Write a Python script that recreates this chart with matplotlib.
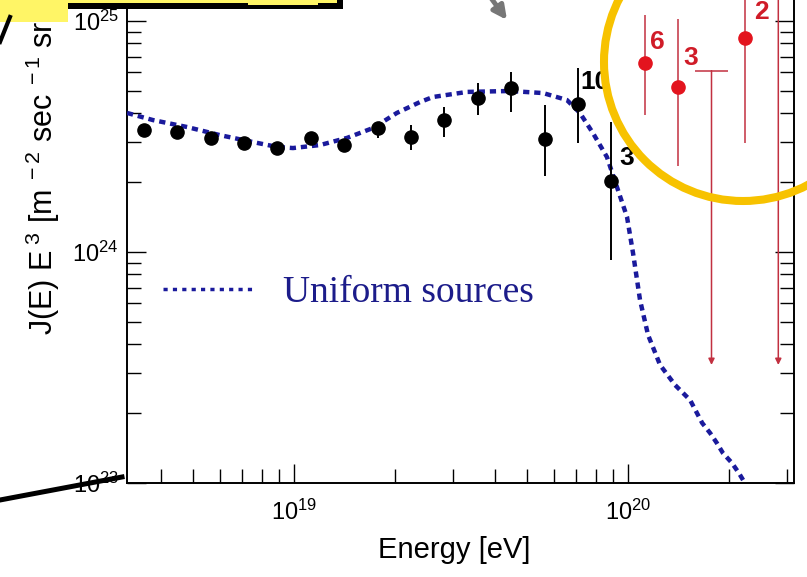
import numpy as np
import matplotlib

matplotlib.use("Agg")
import matplotlib.pyplot as plt
from matplotlib.lines import Line2D
from matplotlib.patches import Rectangle, Circle, FancyArrowPatch
from matplotlib.ticker import FuncFormatter, NullFormatter
from matplotlib.transforms import Affine2D

plt.rcParams["font.family"] = ["Liberation Sans", "DejaVu Sans"]
plt.rcParams["mathtext.fontset"] = "custom"
plt.rcParams["mathtext.rm"] = "Liberation Sans"
plt.rcParams["mathtext.it"] = "Liberation Sans:italic"
plt.rcParams["mathtext.bf"] = "Liberation Sans:bold"

# measured spectrum, log10(E / eV) and log10(J E^3)
data_loge = [18.55, 18.65, 18.75, 18.85, 18.95, 19.05, 19.15, 19.25,
             19.35, 19.45, 19.55, 19.65, 19.75, 19.85, 19.95]
data_logj = [24.528, 24.521, 24.492, 24.473, 24.449, 24.495, 24.463, 24.535,
             24.499, 24.571, 24.668, 24.709, 24.488, 24.639, 24.307]
data_hi = [24.540, 24.535, 24.505, 24.485, 24.460, 24.510, 24.480, 24.564,
           24.550, 24.629, 24.730, 24.781, 24.636, 24.795, 24.564]
data_lo = [24.515, 24.507, 24.479, 24.461, 24.438, 24.480, 24.446, 24.492,
           24.442, 24.499, 24.593, 24.607, 24.329, 24.471, 23.965]

# highest energy bins
top_loge = [20.05, 20.15, 20.35]
top_logj = [24.819, 24.713, 24.928]
top_hi = [25.026, 25.009, 25.30]
top_lo = [24.593, 24.374, 24.473]

# upper limits
ul_loge = [20.25, 20.45]
ul_logj = [24.785, 25.30]
ul_tip = [23.511, 23.511]

# event counts written next to the last bins
cnt_black = ["10", "3"]
cnt_black_loge = [19.85, 19.95]
cnt_black_logj = [24.639, 24.307]
cnt_red = ["6", "3", "2"]

# uniform sources model
model_loge = [18.50, 18.578, 18.68, 18.778, 18.877, 18.949, 18.997, 19.078,
              19.159, 19.237, 19.308, 19.377, 19.416, 19.518, 19.647, 19.746,
              19.817, 19.856, 19.895, 19.937, 19.967, 19.997, 20.015, 20.036,
              20.06, 20.096, 20.141, 20.186, 20.222, 20.246, 20.266, 20.284,
              20.311, 20.332, 20.35]
model_logj = [24.602, 24.571, 24.541, 24.506, 24.476, 24.455, 24.450, 24.463,
              24.494, 24.537, 24.602, 24.649, 24.671, 24.693, 24.697, 24.688,
              24.658, 24.602, 24.515, 24.411, 24.281, 24.152, 23.996, 23.792,
              23.641, 23.511, 23.424, 23.359, 23.260, 23.216, 23.173, 23.130,
              23.087, 23.043, 23.000]

p = lambda v: 10 ** np.asarray(v)
navy = "#1a1a9c"
red = "#e3141e"
dred = "#c23040"

W, H = 807, 577
fig = plt.figure(figsize=(W / 100, H / 100), dpi=100)
ax = fig.add_axes([127 / W, 94 / H, 667 / W, 503 / H])
ax.set_xscale("log")
ax.set_yscale("log")
ax.set_xlim(10 ** 18.5, 10 ** 20.497)
ax.set_ylim(1e23, 10 ** (23 + 503 / 231))

ax.plot(p(model_loge), p(model_logj), color=navy, lw=3.2,
        linestyle=(0, (1.4, 1.1)), dash_capstyle="butt", zorder=3)

j = p(data_logj)
ax.errorbar(p(data_loge), j, yerr=[j - p(data_lo), p(data_hi) - j], fmt="o",
            color="black", ms=9.5, elinewidth=1.4, capsize=0, zorder=4)

jt = p(top_logj)
ax.errorbar(p(top_loge), jt, yerr=[jt - p(top_lo), p(top_hi) - jt], fmt="o",
            color=red, ecolor=dred, ms=9.5, elinewidth=1.1, capsize=0, zorder=4)

for e, v, tip in zip(ul_loge, ul_logj, ul_tip):
    ax.annotate("", xy=(10 ** e, 10 ** tip), xytext=(10 ** e, 10 ** v),
                arrowprops=dict(arrowstyle="-|>", color=dred, lw=1.1,
                                mutation_scale=9, shrinkA=0, shrinkB=0))
    ax.hlines(10 ** v, 10 ** (e - 0.05), 10 ** (e + 0.05), color=dred, lw=1.1)

for s, e, v, off in zip(cnt_black, cnt_black_loge, cnt_black_logj,
                        [(17, 22), (15, 23)]):
    ax.annotate(s, (10 ** e, 10 ** v), xytext=off, textcoords="offset pixels",
                ha="center", va="center", fontsize=19, fontweight="bold",
                color="black")
for s, e, v, off in zip(cnt_red, top_loge, top_logj,
                        [(13, 21), (13, 29), (17, 26)]):
    ax.annotate(s, (10 ** e, 10 ** v), xytext=off, textcoords="offset pixels",
                ha="center", va="center", fontsize=19, fontweight="bold",
                color="#d01c28")

handle = Line2D([], [], color=navy, lw=2.5, linestyle=(0, (1.2, 1.5)),
                dash_capstyle="butt")
leg = ax.legend([handle], ["Uniform sources"], loc="center left",
                bbox_to_anchor=(0.054, 0.378), frameon=False, handlelength=2.4,
                handletextpad=0.8, borderpad=0, borderaxespad=0,
                prop={"family": "Liberation Serif", "size": 27})
for t in leg.get_texts():
    t.set_color("#1c1c8a")

# axes styling
for sp in ax.spines.values():
    sp.set_linewidth(1.4)
ax.tick_params(which="both", direction="in", top=True, right=True, width=1.0)
ax.tick_params(which="major", length=14, labelsize=17)
ax.tick_params(which="minor", length=10)
ax.tick_params(axis="x", which="major", pad=12)
ax.tick_params(axis="y", which="major", pad=6)
fmt = FuncFormatter(lambda v, pos: r"$10^{%d}$" % round(np.log10(v)))
ax.xaxis.set_major_formatter(fmt)
ax.yaxis.set_major_formatter(fmt)
ax.xaxis.set_minor_formatter(NullFormatter())
ax.yaxis.set_minor_formatter(NullFormatter())

ax.set_xlabel("Energy [eV]", fontsize=21)
ax.xaxis.set_label_coords(0.49, -0.105)
ax.set_ylabel(r"J(E) E$^{\ 3}$ [m$^{\ -2}$ sec$^{\ -1}$ sr$^{\ -1}$ eV$^{2}$]",
              fontsize=22, loc="bottom")
ax.yaxis.set_label_coords(-0.0975, 0.294)

# slide decorations, in pixel coordinates from the top left corner
tpx = Affine2D().scale(1 / W, -1 / H).translate(0, 1) + fig.transFigure
deco = [
    Rectangle((68, 0), 272, 4, transform=tpx, fc="#fff566", ec="none"),
    Rectangle((68, 3), 275, 6, transform=tpx, fc="black", ec="none"),
    Rectangle((337, 0), 6, 9, transform=tpx, fc="black", ec="none"),
    Rectangle((248, 0), 70, 5, transform=tpx, fc="#fff566", ec="none"),
    Rectangle((0, 0), 68, 22, transform=tpx, fc="#fff566", ec="none"),
    Circle((743, 62), 139, transform=tpx, fill=False, ec="#f7c200", lw=5.8),
    FancyArrowPatch((491, -2), (507, 20), transform=tpx, arrowstyle="-|>",
                    mutation_scale=20, color="#777777", lw=3.5,
                    shrinkA=0, shrinkB=0),
]
for a in deco:
    a.set_zorder(10)
    fig.add_artist(a)
fig.add_artist(Line2D([0, 10], [42, 17], transform=tpx, color="black", lw=3,
                      zorder=10))
fig.add_artist(Line2D([0, 122], [500, 477], transform=tpx, color="black",
                      lw=3.6, zorder=10))

fig.savefig("out.png", dpi=100)
